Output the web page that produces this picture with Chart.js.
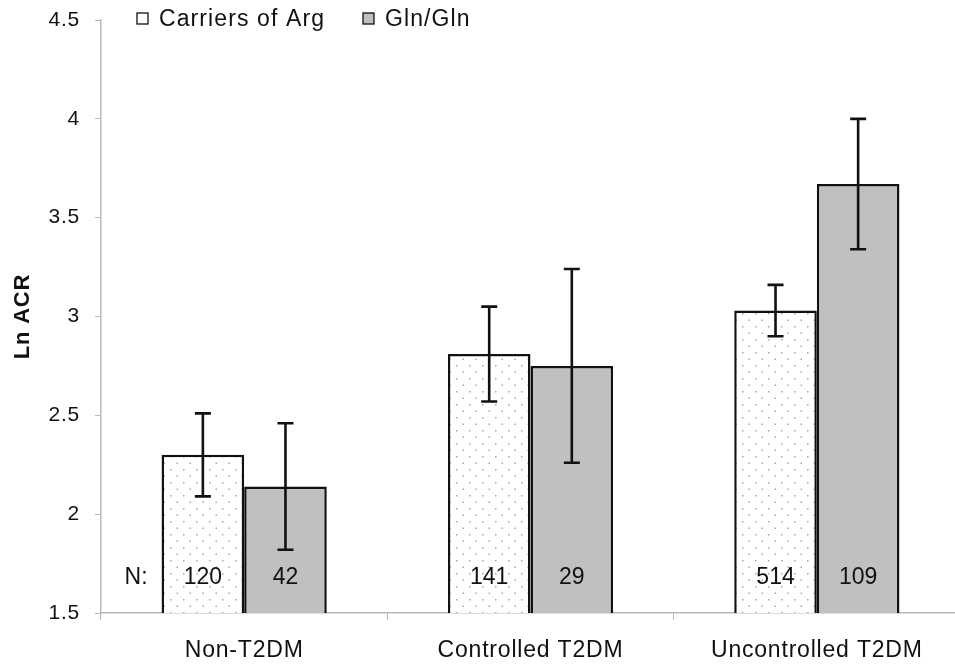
<!DOCTYPE html>
<html>
<head>
<meta charset="utf-8">
<script src="https://cdn.jsdelivr.net/npm/chart.js@4.4.0/dist/chart.umd.min.js"></script>
<style>
  html, body { margin: 0; padding: 0; background: #fff; overflow: hidden; }
  #wrap { width: 960px; height: 665px; }
</style>
</head>
<body>
<div id="wrap"><canvas id="chart"></canvas></div>
<script>
// values
const categories = ['Non-T2DM', 'Controlled T2DM', 'Uncontrolled T2DM'];
const seriesNames = ['Carriers of Arg', 'Gln/Gln'];
const argMeans = [2.30, 2.81, 3.03];
const argErrors = [0.21, 0.24, 0.13];
const glnMeans = [2.14, 2.75, 3.67];
const glnErrors = [0.32, 0.49, 0.33];
const argN = [120, 141, 514];
const glnN = [42, 29, 109];

const errors = [argErrors, glnErrors];
const counts = [argN, glnN];
const FONT = "Arial, 'Liberation Sans', sans-serif";
const SPACING = '0.8px';

// dotted fill for the Arg bars
function dotPattern() {
  const c = document.createElement('canvas');
  c.width = 13; c.height = 13;
  const g = c.getContext('2d');
  g.fillStyle = '#ffffff';
  g.fillRect(0, 0, 13, 13);
  g.fillStyle = '#a8a8a8';
  g.fillRect(1, 1, 1.5, 1.5);
  g.fillRect(7.5, 7.5, 1.5, 1.5);
  return g.createPattern(c, 'repeat');
}

const spacingPlugin = {
  id: 'spacing',
  beforeUpdate(chart) { chart.ctx.letterSpacing = SPACING; },
  beforeDraw(chart) { chart.ctx.letterSpacing = SPACING; }
};

const extrasPlugin = {
  id: 'extras',
  afterDatasetsDraw(chart) {
    const ctx = chart.ctx;
    const y = chart.scales.y;
    ctx.save();
    ctx.letterSpacing = '0px';
    // error bars
    ctx.strokeStyle = '#111';
    ctx.lineWidth = 2.6;
    chart.data.datasets.forEach((ds, d) => {
      const meta = chart.getDatasetMeta(d);
      meta.data.forEach((el, i) => {
        const top = y.getPixelForValue(ds.data[i] + errors[d][i]);
        const bot = y.getPixelForValue(ds.data[i] - errors[d][i]);
        ctx.beginPath();
        ctx.moveTo(el.x, top); ctx.lineTo(el.x, bot);
        ctx.moveTo(el.x - 8, top); ctx.lineTo(el.x + 8, top);
        ctx.moveTo(el.x - 8, bot); ctx.lineTo(el.x + 8, bot);
        ctx.stroke();
      });
    });
    // N counts
    const ny = chart.chartArea.bottom - 35;
    ctx.fillStyle = '#111';
    ctx.font = '23px ' + FONT;
    ctx.textBaseline = 'middle';
    ctx.textAlign = 'center';
    chart.data.datasets.forEach((ds, d) => {
      chart.getDatasetMeta(d).data.forEach((el, i) => {
        ctx.fillText(String(counts[d][i]), el.x, ny);
      });
    });
    const first = chart.getDatasetMeta(0).data[0];
    ctx.textAlign = 'right';
    ctx.fillText('N:', first.x - first.width / 2 - 14, ny);
    ctx.restore();
  },
  afterDraw(chart) {
    // legend across the top
    const ctx = chart.ctx;
    ctx.save();
    ctx.letterSpacing = '1.1px';
    const items = [
      { x: 137, fill: '#ffffff' },
      { x: 363, fill: '#c0c0c0' }
    ];
    ctx.font = '23px ' + FONT;
    ctx.textBaseline = 'middle';
    ctx.textAlign = 'left';
    items.forEach((it, i) => {
      ctx.fillStyle = it.fill;
      ctx.fillRect(it.x, 13, 11, 11);
      ctx.strokeStyle = '#111';
      ctx.lineWidth = 1.3;
      ctx.strokeRect(it.x, 13, 11, 11);
      ctx.fillStyle = '#111';
      ctx.fillText(seriesNames[i], it.x + 22, 20);
    });
    ctx.restore();
  }
};

const ctx = document.getElementById('chart').getContext('2d');
new Chart(ctx, {
  type: 'bar',
  data: {
    labels: categories,
    datasets: [{
      label: seriesNames[0],
      data: argMeans,
      backgroundColor: dotPattern(),
      borderColor: '#111',
      borderWidth: 2.5,
      borderSkipped: false
    }, {
      label: seriesNames[1],
      data: glnMeans,
      backgroundColor: '#c0c0c0',
      borderColor: '#111',
      borderWidth: 2.5,
      borderSkipped: false
    }]
  },
  options: {
    responsive: true,
    maintainAspectRatio: false,
    animation: false,
    categoryPercentage: 0.577,
    barPercentage: 1,
    layout: { padding: { top: 20, right: 0, left: 0, bottom: 0 } },
    plugins: {
      legend: { display: false },
      tooltip: { enabled: false }
    },
    scales: {
      x: {
        afterFit(scale) { scale.height = 52; },
        grid: { offset: true, drawOnChartArea: false, tickLength: 7, color: '#b8b8b8' },
        border: { color: '#b8b8b8', width: 1.5 },
        ticks: { color: '#111', font: { family: FONT, size: 23 }, padding: 17 }
      },
      y: {
        min: 1.5,
        max: 4.5,
        afterFit(scale) {
          scale.width = 101;
          scale.paddingTop = 0;
          scale.paddingBottom = 0;
        },
        grid: { drawOnChartArea: false, tickLength: 6, color: '#b8b8b8' },
        border: { color: '#b8b8b8', width: 1.5 },
        ticks: {
          stepSize: 0.5,
          color: '#111',
          font: { family: FONT, size: 21 },
          padding: 15,
          callback: v => String(v)
        },
        title: {
          display: true,
          text: 'Ln ACR',
          color: '#111',
          font: { family: FONT, size: 22, weight: 'bold' },
          padding: { top: 10, bottom: 0 }
        }
      }
    }
  },
  plugins: [spacingPlugin, extrasPlugin]
});
</script>
</body>
</html>
